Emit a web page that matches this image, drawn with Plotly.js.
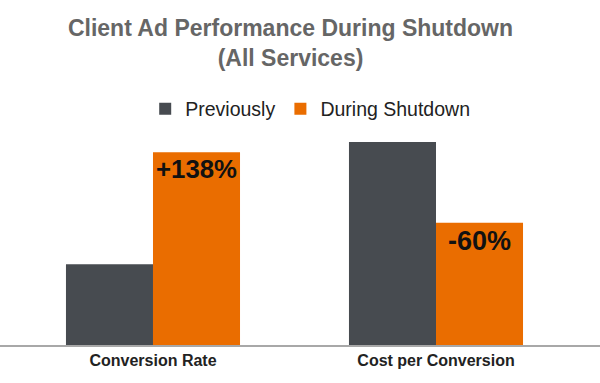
<!DOCTYPE html>
<html><head><meta charset="utf-8">
<script src="https://cdn.plot.ly/plotly-3.0.1.min.js"></script>
<style>html,body{margin:0;padding:0;background:#fff}#chart{width:600px;height:383px}</style>
</head><body><div id="chart"></div>
<script>
const categories = ['Conversion Rate', 'Cost per Conversion'];
const previously = [80.7, 203];
const duringShutdown = [192.7, 122.3];
const changeLabels = ['+138%', '-60%'];
const seriesNames = ['Previously', 'During Shutdown'];

const traces = [
  {type:'bar', name:seriesNames[0], x:categories, y:previously,
   marker:{color:'#474b50'}, hoverinfo:'none'},
  {type:'bar', name:seriesNames[1], x:categories, y:duringShutdown,
   marker:{color:'#ea6d00'}, text:changeLabels, textposition:'inside',
   insidetextanchor:'end', textangle:0,
   textfont:{family:'Liberation Sans, Arial, sans-serif', size:27, color:'#111', weight:'bold'},
   hoverinfo:'none'}
];

const layout = {
  width:600, height:383,
  margin:{l:0, r:0, t:100, b:38, pad:0},
  paper_bgcolor:'#fff', plot_bgcolor:'#fff',
  title:{text:'Client Ad Performance During Shutdown<br>(All Services)',
    x:290.5/600, xanchor:'center', yref:'container', y:1-36/383, yanchor:'middle',
    font:{family:'Liberation Sans, Arial, sans-serif', size:23, color:'#666', weight:'bold'}},
  barmode:'group', bargap:0.385, bargroupgap:0,
  showlegend:true,
  legend:{orientation:'h', x:0.242, xanchor:'left', y:1.043, yanchor:'top',
    font:{family:'Liberation Sans, Arial, sans-serif', size:19.5, color:'#222'},
    itemclick:false, traceorder:'normal'},
  xaxis:{type:'category', range:[-0.5406, 1.5795], showline:true, linecolor:'#a8a8a8', linewidth:1.5,
    ticks:'', showgrid:false, zeroline:false,
    tickfont:{family:'Liberation Sans, Arial, sans-serif', size:16, color:'#222', weight:'bold'}},
  yaxis:{range:[0,245], visible:false, showgrid:false, zeroline:false}
};
Plotly.newPlot('chart', traces, layout, {staticPlot:true, displayModeBar:false});
</script></body></html>
